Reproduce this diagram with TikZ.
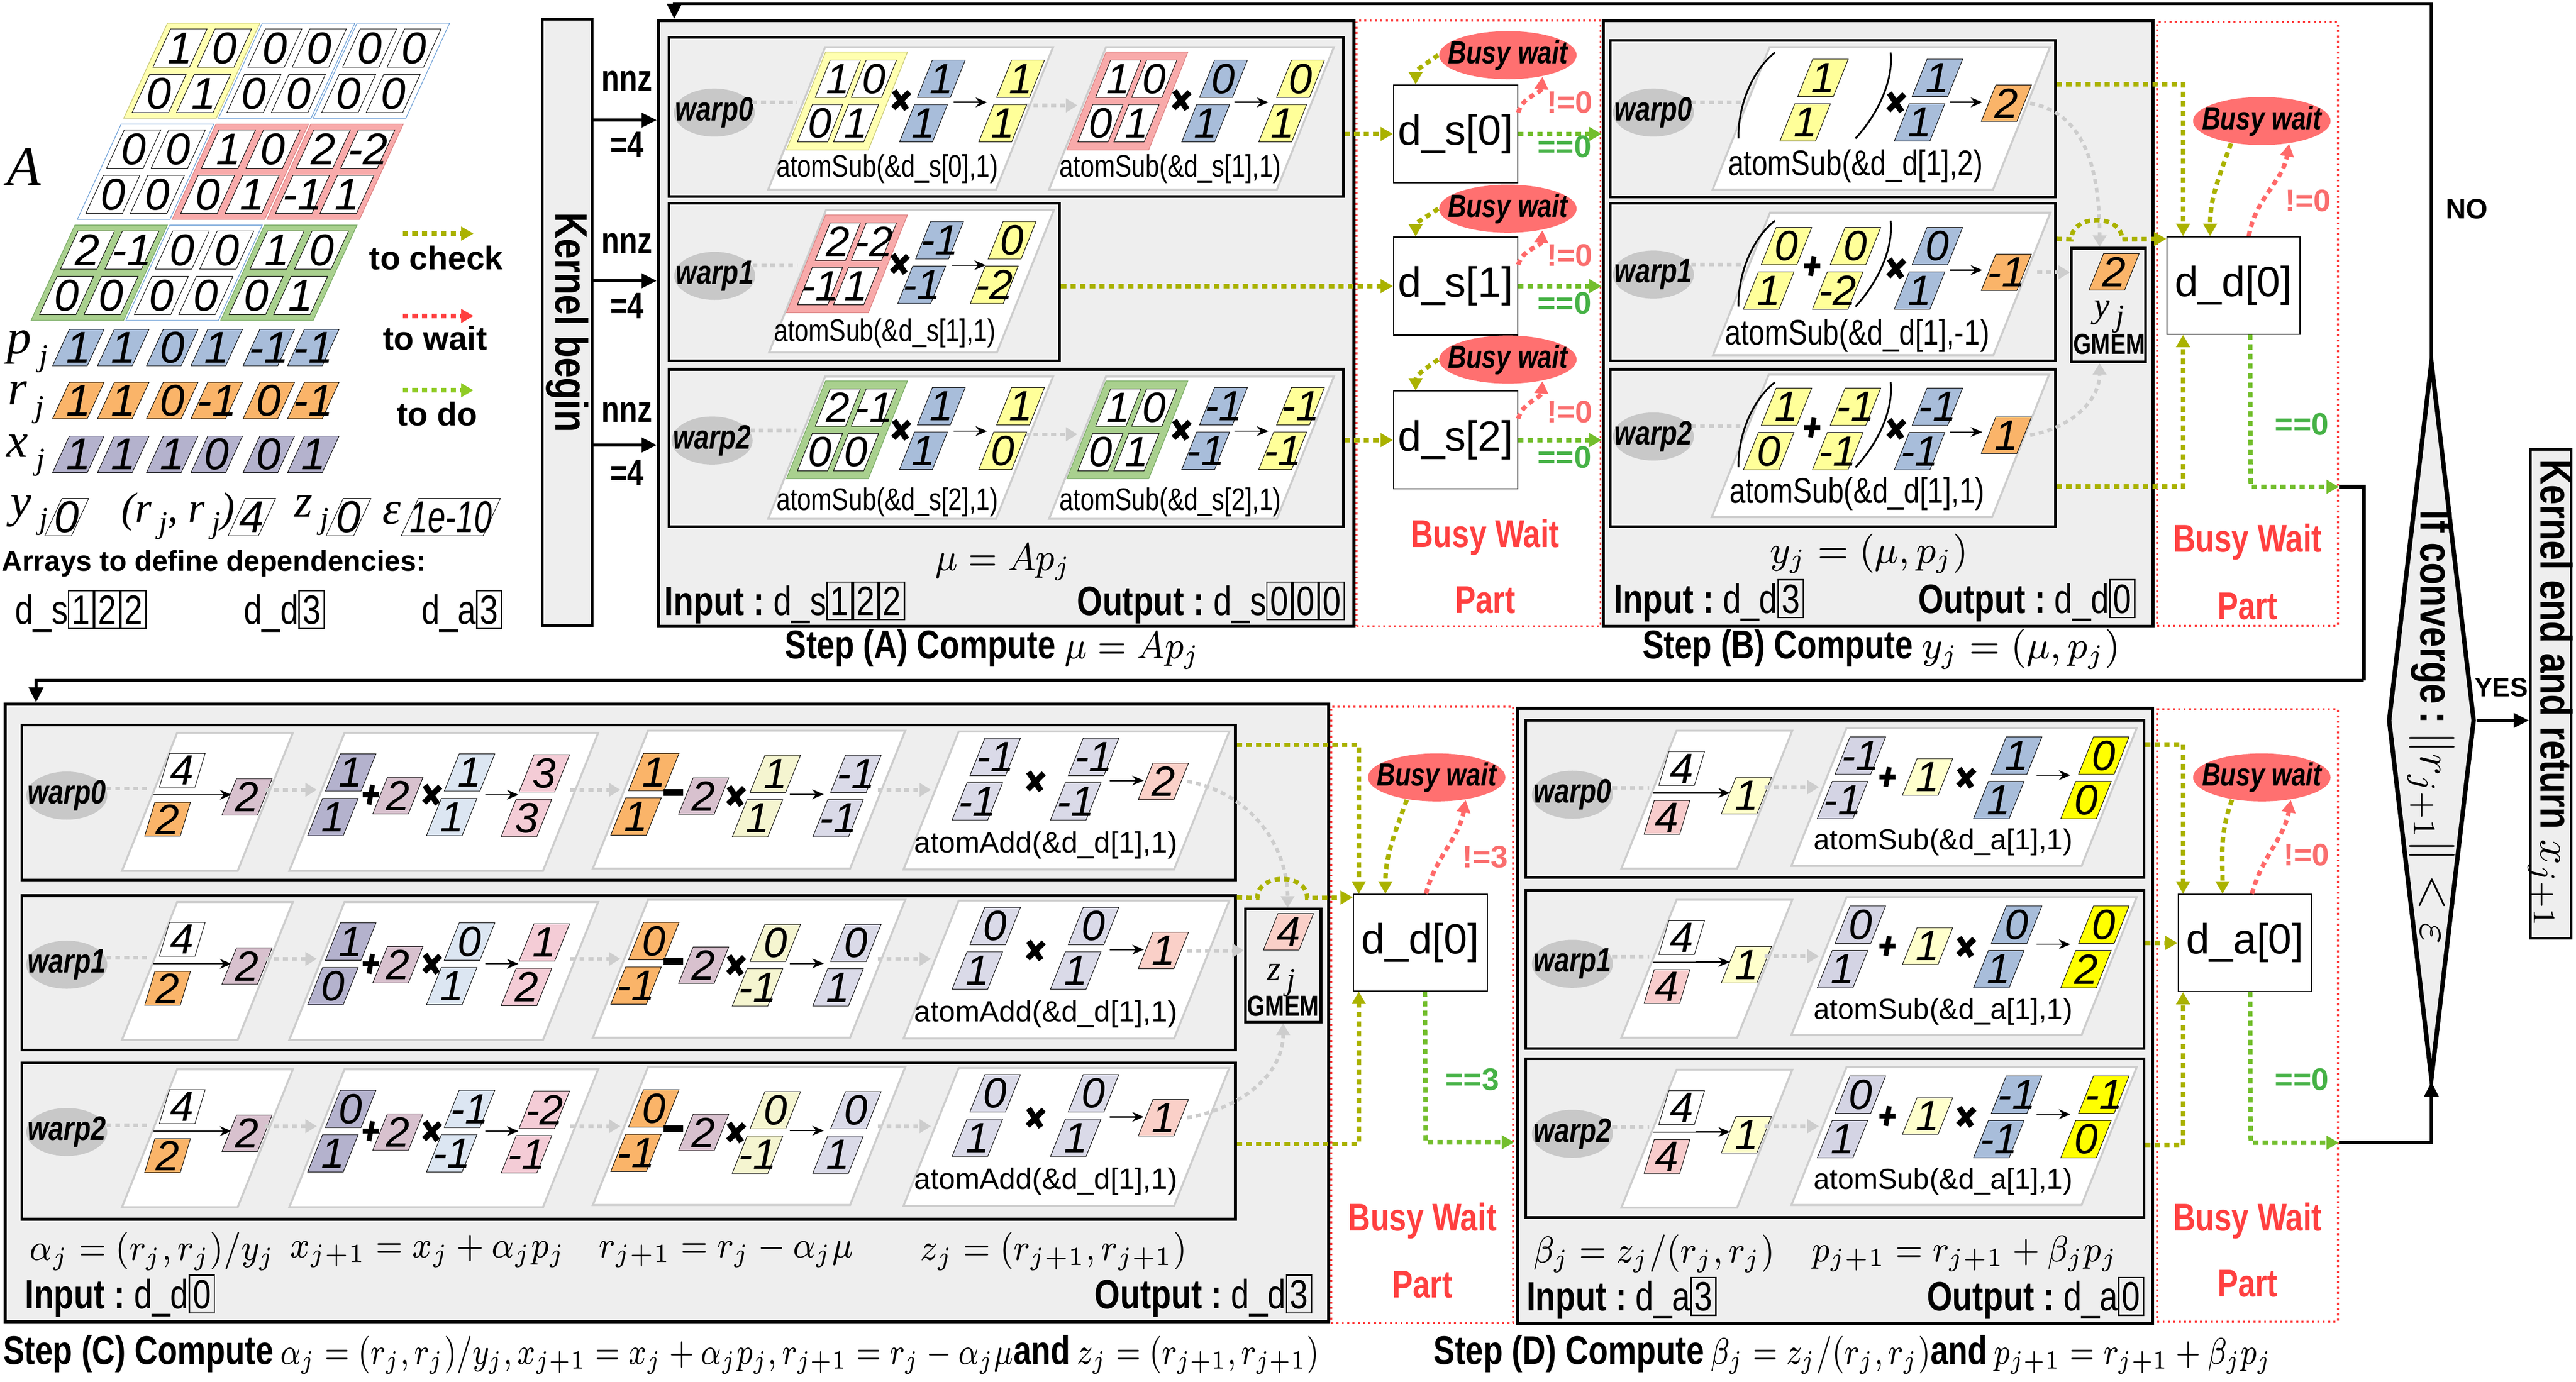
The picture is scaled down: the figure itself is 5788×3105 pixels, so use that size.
\documentclass[tikz,border=0pt]{standalone}
\usepackage{fix-cm}
\usepackage{graphicx}
\usepackage[no-math]{fontspec}
\setmainfont{Liberation Sans}
\newfontfamily\cf[FakeStretch=0.8]{Liberation Sans}
\newfontfamily\serf{Liberation Serif}
\usetikzlibrary{arrows.meta,shapes.geometric}
\newcounter{nn}
\newcommand\fsz[1]{\fontsize{#1}{#1}\selectfont}
\newcommand\mth[2][0.88]{\scalebox{#1}[1]{$#2$}}
\setlength\fboxsep{0.6pt}
\setlength\fboxrule{0.3pt}
\newcommand\bx[1]{\fbox{\rule[-0.03em]{0pt}{0.76em}#1}}
\newcommand\sbj{\,\raisebox{-0.55ex}{\fsz{7}j}}
\definecolor{bgc}{RGB}{238,238,238}
\definecolor{elc}{RGB}{200,200,200}
\definecolor{pnlc}{RGB}{205,205,205}
\definecolor{yelA}{RGB}{255,255,176}
\definecolor{yelB}{RGB}{200,200,120}
\definecolor{redA}{RGB}{248,170,170}
\definecolor{redB}{RGB}{220,130,130}
\definecolor{grnA}{RGB}{169,208,142}
\definecolor{grnB}{RGB}{120,170,100}
\definecolor{lblc}{RGB}{110,160,215}
\definecolor{bluC}{RGB}{168,189,218}
\definecolor{orgC}{RGB}{250,180,105}
\definecolor{purC}{RGB}{180,178,205}
\definecolor{yelV}{RGB}{255,255,153}
\definecolor{mauC}{RGB}{216,193,206}
\definecolor{lbluC}{RGB}{220,230,242}
\definecolor{pinkC}{RGB}{244,204,214}
\definecolor{lyelC}{RGB}{245,245,208}
\definecolor{lavC}{RGB}{218,218,232}
\definecolor{salC}{RGB}{250,208,200}
\definecolor{pnkD}{RGB}{248,204,204}
\definecolor{lyelD}{RGB}{255,255,204}
\definecolor{yelD}{RGB}{255,255,0}
\definecolor{lavD}{RGB}{212,212,228}
\definecolor{chk}{RGB}{170,178,0}
\definecolor{wtc}{RGB}{255,105,105}
\definecolor{doc}{RGB}{115,190,45}
\definecolor{eqg}{RGB}{70,178,70}
\definecolor{neq}{RGB}{250,110,110}
\definecolor{bwr}{RGB}{255,64,64}
\definecolor{elr}{RGB}{255,112,112}
\definecolor{gar}{RGB}{205,205,205}
\tikzset{
 cl/.style={draw=black,line width=0.12pt},
 num/.style={inner sep=0pt,font=\fsz{\myNf}\itshape},
 pnlst/.style={draw=pnlc,line width=0.45pt,fill=white},
 wbox/.style={draw=black,line width=0.6pt,fill=bgc,inner sep=0pt},
 obox/.style={draw=black,line width=0.7pt,fill=bgc,inner sep=0pt},
 bwbox/.style={draw=bwr,line width=0.45pt,dash pattern=on 0.45pt off 0.75pt,inner sep=0pt},
 wel/.style={ellipse,fill=elc,minimum width=18.2pt,minimum height=10.8pt,inner sep=0pt},
 welt/.style={inner sep=0pt,font=\cf\bfseries\itshape\fsz{7.6}},
 bel/.style={ellipse,fill=elr,minimum width=30.9pt,minimum height=10.8pt,inner sep=0pt},
 belt/.style={inner sep=0pt,font=\cf\bfseries\itshape\fsz{7.2}},
 dbox/.style={draw=black,line width=0.25pt,fill=white,inner sep=0pt,minimum width=29.9pt,minimum height=21.9pt,font=\fsz{9.5}},
 dl/.style={line width=1pt,dash pattern=on 1.2pt off 0.95pt},
 chka/.style={dl,draw=chk,-{Triangle[length=2.8pt,width=3pt]}},
 waita/.style={dl,draw=wtc,-{Triangle[length=2.8pt,width=3pt]}},
 doa/.style={dl,draw=doc,-{Triangle[length=2.8pt,width=3pt]}},
 gdot/.style={draw=gar,line width=0.8pt,dash pattern=on 1.1pt off 0.9pt},
 gda/.style={gdot,-{Triangle[length=2.6pt,width=3pt]}},
 blkl/.style={draw=black,line width=0.7pt},
 blka/.style={blkl,-{Triangle[length=3.4pt,width=3.2pt]}},
 lbl/.style={inner sep=0pt},
 neqt/.style={inner sep=0pt,font=\bfseries\fsz{7},text=neq},
 eqt/.style={inner sep=0pt,font=\bfseries\fsz{7},text=eqg},
 bwt/.style={inner sep=0pt,font=\cf\bfseries\fsz{8.7},text=bwr},
 iot/.style={inner sep=0pt,font=\cf\fsz{9.2}},
 capt/.style={inner sep=0pt,font=\cf\bfseries\fsz{9}},
 atA/.style={inner sep=0pt,font=\cf\fsz{7}},
 atB/.style={inner sep=0pt,font=\cf\fsz{8}},
 atC/.style={inner sep=0pt,font=\fsz{6.6}},
 legl/.style={inner sep=0pt,font=\serf\itshape\fsz{10.5}},
 frm/.style={inner sep=0pt,font=\fsz{8.2}},
}
\newcommand\blk[8]{%
 \begin{scope}[shift={(#1,#2)},xslant=\mySl]
  \draw[draw=#4,line width=0.15pt,fill=#3] (-\myBw,-\myBh) rectangle (\myBw,\myBh);
  \foreach \i/\j/\t in {-1/-1/#5,1/-1/#6,-1/1/#7,1/1/#8}{%
   \draw[cl,fill=white] (\i*\myCx-\myCw,\j*\myCy-\myCh) rectangle (\i*\myCx+\myCw,\j*\myCy+\myCh);
   \stepcounter{nn}%
   \node[num] (n\thenn) at (\i*\myCx,\j*\myCy) {\t};}
 \end{scope}}
\newcommand\gcell[6]{%
 \begin{scope}[shift={(#1,#2)},xslant=\mySl]
  \draw[cl,fill=#5] (-#3,-#4) rectangle (#3,#4);
  \stepcounter{nn}\node[num] (n\thenn) at (0,0) {#6};
 \end{scope}}
\newcommand\vtwo[5]{%
 \begin{scope}[shift={(#1,#2)},xslant=\mySl]
  \draw[cl,fill=#3] (-\myVw,-92) rectangle (\myVw,-8);
  \draw[cl,fill=#3] (-\myVw,8) rectangle (\myVw,92);
  \stepcounter{nn}\node[num] (n\thenn) at (0,-50) {#4};
  \stepcounter{nn}\node[num] (n\thenn) at (0,50) {#5};
 \end{scope}}
\newcommand\vone[5]{%
 \begin{scope}[shift={(#1,#2)},xslant=\mySl]
  \draw[cl,fill=#3] (-40,-41) rectangle (40,41);
 \end{scope}
 \node[num] (#5) at (#1,#2) {#4};}
\newcommand\frc[5]{%
 \begin{scope}[shift={(#1,#2)},xslant=0.3]
  \draw[cl,fill=white] (-40,-93) rectangle (40,-17);
  \draw[cl,fill=#3] (-40,17) rectangle (40,93);
  \stepcounter{nn}\node[num] (n\thenn) at (0,-55) {#4};
  \stepcounter{nn}\node[num] (n\thenn) at (0,55) {#5};
 \end{scope}
 \draw[line width=0.25pt] (#1-48,#2) -- (#1+48,#2);}
\newcommand\pnl[5]{%
 \begin{scope}[shift={(#1,#2)},xslant=0.4]
  \draw[pnlst] (-#3,-#4) rectangle (#3,#4);
 \end{scope}
 \coordinate (#5w) at (#1-#3,#2);
 \coordinate (#5e) at (#1+#3,#2);}
\newcommand\mulx[2]{\draw[line width=1.3pt] (#1-15,#2-21) -- (#1+13,#2+21) (#1+19,#2-18) -- (#1-17,#2+18);}
\newcommand\plusx[2]{\draw[line width=1.1pt] (#1+4,#2-22) -- (#1-4,#2+22) (#1-18,#2) -- (#1+18,#2);}
\newcommand\minx[2]{\draw[line width=1.5pt] (#1-22,#2) -- (#1+22,#2);}
\newcommand\rar[3]{\draw[line width=0.3pt,-{Stealth[length=2.6pt,width=2.2pt]}] (#1,#3) -- (#2,#3);}
\newcommand\wEl[4]{\node[wel] (#1) at (#2,#3) {}; \node[welt] (#1t) at (#1) {#4};}
\newcommand\bEl[3]{\node[bel] (#1) at (#2,#3) {}; \node[belt] (#1t) at (#1) {Busy wait};}
% ---- Step C row
\newcommand\rowCa[9]{%
 \wEl{eC#1}{150}{1788}{warp#1}
 \pnl{466}{1802}{130}{155}{pC#1a}
 \pnl{997}{1802}{285}{155}{pC#1b}
 \pnl{1683}{1797}{289}{155}{pC#1c}
 \pnl{2396}{1799}{304}{155}{pC#1d}
 \coordinate (rC#1) at (0,1775);
 \frc{393}{1786}{orgC}{4}{2}
 \rar{439}{520}{1786}
 \vone{555}{1791}{mauC}{2}{aC#1}
 \vtwo{768}{1786}{purC}{#2}{#3}
 \plusx{833}{1786}
 \vone{894}{1788}{mauC}{2}{bC#1}
 \mulx{970}{1786}
 \vtwo{1035}{1786}{lbluC}{#4}{#5}
 \rar{1090}{1165}{1786}
 \vtwo{1203}{1788}{pinkC}{#6}{#7}
 \vtwo{1449}{1785}{orgC}{#8}{#9}
 \minx{1513}{1781}
 \vone{1581}{1789}{mauC}{2}{cC#1}
 \mulx{1653}{1789}}
\newcommand\rowCb[6]{%
 \vtwo{1722}{1789}{lyelC}{#2}{#3}
 \rar{1774}{1851}{1785}
 \vtwo{1903}{1789}{lavC}{#4}{#5}
 \vtwo{2216}{1751}{lavC}{#4}{#5}
 \mulx{2326}{1756}
 \vtwo{2437}{1751}{lavC}{#4}{#5}
 \rar{2494}{2570}{1754}
 \vone{2614}{1756}{salC}{#6}{fC#1}
 \node[atC] (atC#1) at (2350,1899) {atomAdd(\&d\_d[1],1)};
 \draw[gdot] (eC#1.10) -- (eC#1.10 -| pC#1aw);
 \draw[gda] (pC#1ae |- rC#1) -- (pC#1bw |- rC#1);
 \draw[gda] (pC#1be |- rC#1) -- (pC#1cw |- rC#1);
 \draw[gda] (pC#1ce |- rC#1) -- (pC#1dw |- rC#1);}
% ---- Step D row
\newcommand\rowD[7]{%
 \wEl{eD#1}{3533}{1786}{warp#1}
 \pnl{3835}{1797}{130}{155}{pD#1a}
 \pnl{4413}{1791}{326}{155}{pD#1b}
 \coordinate (rD#1) at (0,1769);
 \frc{3762}{1782}{pnkD}{4}{4}
 \rar{3810}{3887}{1782}
 \vone{3924}{1788}{lyelD}{1}{aD#1}
 \vtwo{4160}{1748}{lavD}{#2}{#3}
 \plusx{4241}{1746}
 \vone{4331}{1746}{lyelD}{1}{bD#1}
 \mulx{4417}{1748}
 \vtwo{4511}{1748}{bluC}{#4}{#5}
 \rar{4576}{4652}{1742}
 \vtwo{4707}{1748}{yelD}{#6}{#7}
 \node[atC,font=\fsz{6.5}] (atD#1) at (4366,1893) {atomSub(\&d\_a[1],1)};
 \draw[gdot] (eD#1.10) -- (eD#1.10 -| pD#1aw);
 \draw[gda] (pD#1ae |- rD#1) -- (pD#1bw |- rD#1);}
\begin{document}
\begin{tikzpicture}[x=0.1pt,y=-0.1pt]
\useasboundingbox (0,0) rectangle (5788,3105);
\def\myNf{10}
% ================= Legend
\def\mySl{0.46}\def\myBw{104}\def\myBh{107}\def\myCx{50}\def\myCy{51}\def\myCw{41}\def\myCh{43}
\blk{431}{159}{yelA}{yelB}{1}{0}{0}{1}
\blk{644}{159}{white}{lblc}{0}{0}{0}{0}
\blk{857}{159}{white}{lblc}{0}{0}{0}{0}
\blk{327}{386}{white}{lblc}{0}{0}{0}{0}
\blk{540}{386}{redA}{redB}{1}{0}{0}{1}
\blk{753}{386}{redA}{redB}{2}{-2}{-1}{1}
\blk{223}{613}{grnA}{grnB}{2}{-1}{0}{0}
\blk{436}{613}{white}{lblc}{0}{0}{0}{0}
\blk{649}{613}{grnA}{grnB}{1}{0}{0}{1}
\foreach \x/\v in {176/1,277/1,387/0,487/1,604/-1,704/-1}{\gcell{\x}{781}{39}{41}{bluC}{\v}}
\foreach \x/\v in {176/1,277/1,387/0,487/-1,604/0,704/-1}{\gcell{\x}{900}{39}{41}{orgC}{\v}}
\foreach \x/\v in {176/1,277/1,387/1,487/0,604/0,704/1}{\gcell{\x}{1021}{39}{41}{purC}{\v}}
\node[legl,font=\serf\itshape\fsz{12.5}] (lA) at (54,375) {A};
\node[legl,font=\serf\itshape\fsz{11}] (lp) at (62,790) {p\sbj};
\node[legl,font=\serf\itshape\fsz{11}] (lr) at (58,905) {r\sbj};
\node[legl,font=\serf\itshape\fsz{11}] (lx) at (58,1024) {x\sbj};
\node[legl] (ly) at (66,1158) {y\sbj};
\gcell{150}{1162}{30}{42}{white}{0}
\node[legl,font=\serf\itshape\fsz{9.5}] (lrr) at (400,1160) {(r\sbj, r\sbj)};
\gcell{566}{1162}{34}{42}{white}{4}
\node[legl] (lz) at (700,1158) {z\sbj};
\gcell{783}{1162}{31}{42}{white}{0}
\node[legl] (le) at (880,1154) {ε};
\gcell{1013}{1162}{92}{42}{white}{\scalebox{0.72}[1]{1e-10}}
\coordinate (lc1) at (905,525); \coordinate (lc2) at (1064,525);
\coordinate (lw1) at (905,710); \coordinate (lw2) at (1064,710);
\coordinate (ld1) at (905,877); \coordinate (ld2) at (1064,877);
\draw[chka] (lc1) -- (lc2);
\draw[waita,draw=bwr] (lw1) -- (lw2);
\draw[doa,draw=doc!80!yellow] (ld1) -- (ld2);
\node[lbl,font=\bfseries\fsz{7.4}] (tchk) at (980,580) {to check};
\node[lbl,font=\bfseries\fsz{7.4}] (twt) at (978,760) {to wait};
\node[lbl,font=\bfseries\fsz{7.4}] (tdo) at (982,930) {to do};
\node[lbl,anchor=west,font=\bfseries\fsz{6.4}] (arr) at (2,1267) {Arrays to define dependencies:};
\node[iot,anchor=west] (lds) at (32,1373) {d\_s\bx{1}\bx{2}\bx{2}};
\node[iot,anchor=west] (ldd) at (546,1373) {d\_d\bx{3}};
\node[iot,anchor=west] (lda) at (945,1373) {d\_a\bx{3}};
% ================= frames
\node[obox,line width=0.6pt,minimum width=11.3pt,minimum height=136.3pt] (kb) at (1274.5,724.5) {};
\node[rotate=-90,inner sep=0pt,font=\cf\bfseries\fsz{10.2}] (kbt) at (kb.center) {Kernel begin};
\node[obox,minimum width=156.3pt,minimum height=136.2pt] (stA) at (2260.5,727) {};
\node[bwbox,minimum width=54.8pt,minimum height=136.2pt] (bpA) at (3322,727) {};
\node[obox,minimum width=123.6pt,minimum height=136.2pt] (stB) at (4220,727) {};
\node[bwbox,minimum width=40.6pt,minimum height=135.6pt] (bpB) at (5050,728) {};
\node[obox,minimum width=297.4pt,minimum height=138.8pt] (stC) at (1498,2276) {};
\node[bwbox,minimum width=40.9pt,minimum height=138.5pt] (bpC) at (3195.5,2280.5) {};
\node[obox,minimum width=142.6pt,minimum height=138.3pt] (stD) at (4123,2283.5) {};
\node[bwbox,minimum width=40.6pt,minimum height=137.6pt] (bpD) at (5050,2282) {};
\node[wbox,minimum width=151.5pt,minimum height=35.8pt] (wA0) at (2260.5,263) {};
\node[wbox,minimum width=87.8pt,minimum height=35.4pt] (wA1) at (1942,634) {};
\node[wbox,minimum width=151.5pt,minimum height=35.4pt] (wA2) at (2260.5,1007) {};
\node[wbox,minimum width=100pt,minimum height=35.2pt] (wB0) at (4118,267) {};
\node[wbox,minimum width=100pt,minimum height=35.4pt] (wB1) at (4118,634) {};
\node[wbox,minimum width=100pt,minimum height=35.4pt] (wB2) at (4118,1007) {};
\node[wbox,minimum width=272.7pt,minimum height=34.9pt] (wC0) at (1412.5,1803.5) {};
\node[wbox,minimum width=272.7pt,minimum height=34.7pt] (wC1) at (1412.5,2186.5) {};
\node[wbox,minimum width=272.7pt,minimum height=35.1pt] (wC2) at (1412.5,2564.5) {};
\node[wbox,minimum width=138.9pt,minimum height=35.3pt] (wD0) at (4122.5,1795.5) {};
\node[wbox,minimum width=138.9pt,minimum height=35.5pt] (wD1) at (4122.5,2178.5) {};
\node[wbox,minimum width=138.9pt,minimum height=35.7pt] (wD2) at (4122.5,2557.5) {};
% kernel begin arrows
\foreach \k/\y in {1/270,2/631,3/1000}{
 \coordinate (ka\k) at (0,\y);
 \draw[blka] (kb.east |- ka\k) -- (stA.west |- ka\k);}
\foreach \k/\y in {1/182,2/547,3/926}{\node[lbl,font=\cf\bfseries\fsz{8.3}] (nnz\k) at (1409,\y) {nnz};}
\foreach \k/\y in {1/325,2/687,3/1062}{\node[lbl,font=\cf\bfseries\fsz{8.3}] (eqf\k) at (1409,\y) {=4};}
% ================= Step A
\def\mySl{0.4}\def\myBw{92}\def\myBh{110}\def\myCx{40.5}\def\myCy{50}\def\myCw{34}\def\myCh{42}\def\myNf{9.5}\def\myVw{37}
\wEl{eA0}{1605}{253}{warp0}
\wEl{eA1}{1606}{620}{warp1}
\wEl{eA2}{1600}{990}{warp2}
\pnl{2046}{266}{256}{160}{pA00}
\pnl{2677}{266}{256}{160}{pA01}
\pnl{2048}{632}{256}{160}{pA10}
\pnl{2046}{1006}{256}{160}{pA20}
\pnl{2677}{1006}{256}{160}{pA21}
\coordinate (rA0) at (0,237); \coordinate (rA2) at (0,976);
\draw[gdot] (eA0.15) -- (eA0.15 -| pA00w);
\draw[gda] (pA00e |- rA0) -- (pA01w |- rA0);
\draw[gdot] (eA1.15) -- (eA1.15 -| pA10w);
\draw[gdot] (eA2.15) -- (eA2.15 -| pA20w);
\draw[gda] (pA20e |- rA2) -- (pA21w |- rA2);
% warp0
\blk{1903}{227}{yelA}{yelB}{1}{0}{0}{1}
\mulx{2024}{225}
\vtwo{2095}{227}{bluC}{1}{1}
\rar{2143}{2218}{230}
\vtwo{2273}{227}{yelV}{1}{1}
\node[atA] (atA00) at (1994,380) {atomSub(\&d\_s[0],1)};
\blk{2533}{227}{redA}{redB}{1}{0}{0}{1}
\mulx{2654}{225}
\vtwo{2729}{227}{bluC}{0}{1}
\rar{2773}{2850}{230}
\vtwo{2902}{227}{yelV}{0}{1}
\node[atA] (atA01) at (2630,380) {atomSub(\&d\_s[1],1)};
% warp1
\blk{1903}{593}{redA}{redB}{2}{-2}{-1}{1}
\mulx{2021}{593}
\vtwo{2091}{590}{bluC}{-1}{-1}
\rar{2139}{2215}{596}
\vtwo{2254}{590}{yelV}{0}{-2}
\node[atA] (atA10) at (1988,749) {atomSub(\&d\_s[1],1)};
% warp2
\blk{1903}{966}{grnA}{grnB}{2}{-1}{0}{0}
\mulx{2024}{966}
\vtwo{2095}{963}{bluC}{1}{1}
\rar{2143}{2218}{969}
\vtwo{2273}{963}{yelV}{1}{0}
\node[atA] (atA20) at (1994,1129) {atomSub(\&d\_s[2],1)};
\blk{2533}{966}{grnA}{grnB}{1}{0}{0}{1}
\mulx{2654}{966}
\vtwo{2729}{963}{bluC}{-1}{-1}
\rar{2773}{2850}{969}
\vtwo{2902}{963}{yelV}{-1}{-1}
\node[atA] (atA21) at (2630,1129) {atomSub(\&d\_s[2],1)};
\node[frm,font=\fsz{8.8}] (fA) at (2254,1263) {\mth[0.9]{\mu = Ap_j}};
\node[iot,anchor=west] (inA) at (1491,1354) {{\bfseries Input :}\ d\_s\bx{1}\bx{2}\bx{2}};
\node[iot,anchor=east] (outA) at (3024,1354) {{\bfseries Output :}\ d\_s\bx{0}\bx{0}\bx{0}};
\node[capt] (capA) at (2230,1459) {Step (A) Compute\ {\mdseries\fsz{8.8}\mth[0.9]{\mu = Ap_j}}};
% ---- busy A
\node[dbox,minimum width=27.9pt,minimum height=22pt] (dsA0) at (3270.5,301) {d\_s[0]};
\node[dbox,minimum width=27.9pt,minimum height=22pt] (dsA1) at (3270.5,643) {d\_s[1]};
\node[dbox,minimum width=27.9pt,minimum height=22pt] (dsA2) at (3270.5,989) {d\_s[2]};
\bEl{bwA0}{3388}{124}
\bEl{bwA1}{3388}{469}
\bEl{bwA2}{3388}{808}
\foreach \k in {0,1,2}{
 \draw[chka] (wA\k.east |- dsA\k.west) -- (dsA\k.west);
 \draw[doa] (dsA\k.east) -- (dsA\k.east -| stB.west);
 \draw[chka] (bwA\k.west) to[out=215,in=90] ([xshift=5.1pt]dsA\k.north west);
 \draw[waita] ([yshift=4.8pt]dsA\k.east) to[out=75,in=-95] (bwA\k.-32);}
\foreach \k/\y in {0/230,1/574,2/926}{\node[neqt] (neA\k) at (3527,\y) {!=0};}
\foreach \k/\y in {0/330,1/681,2/1027}{\node[eqt] (eqA\k) at (3515,\y) {==0};}
\node[bwt] (bwtA) at (3337,1207) {Busy Wait};
\node[bwt] (ptA) at (3337,1349) {Part};
% ================= Step B
\def\myVw{40}
\wEl{eB0}{3715}{253}{warp0}
\wEl{eB1}{3715}{617}{warp1}
\wEl{eB2}{3715}{981}{warp2}
\pnl{4227}{266}{315}{160}{pB0}
\pnl{4228}{638}{315}{160}{pB1}
\pnl{4225}{1002}{315}{160}{pB2}
\draw[gdot] (eB0.15) -- (eB0.15 -| pB0w);
\draw[gdot] (eB1.15) -- (eB1.15 -| pB1w);
\draw[gdot] (eB2.15) -- (eB2.15 -| pB2w);
\draw[line width=0.4pt] (3988,118) .. controls (3935,160) and (3905,240) .. (3906,311);
\draw[line width=0.4pt] (4248,118) .. controls (4255,185) and (4215,262) .. (4169,311);
\vtwo{4076}{225}{yelV}{1}{1}
\mulx{4260}{230}
\vtwo{4333}{225}{bluC}{1}{1}
\rar{4381}{4454}{230}
\vone{4508}{232}{orgC}{2}{rB0}
\node[atB] (atB0) at (4169,373) {atomSub(\&d\_d[1],2)};
\draw[line width=0.4pt] (3988,496) .. controls (3935,538) and (3905,618) .. (3906,689);
\draw[line width=0.4pt] (4248,496) .. controls (4255,563) and (4215,640) .. (4169,689);
\vtwo{3994}{603}{yelV}{0}{1}
\plusx{4072}{598}
\vtwo{4149}{603}{yelV}{0}{-2}
\mulx{4260}{603}
\vtwo{4333}{603}{bluC}{0}{1}
\rar{4381}{4454}{607}
\vone{4508}{612}{orgC}{-1}{rB1}
\node[atB] (atB1) at (4173,754) {atomSub(\&d\_d[1],-1)};
\draw[line width=0.4pt] (3988,859) .. controls (3935,901) and (3905,980) .. (3906,1050);
\draw[line width=0.4pt] (4248,859) .. controls (4255,926) and (4215,1002) .. (4169,1050);
\vtwo{3994}{964}{yelV}{1}{0}
\plusx{4072}{961}
\vtwo{4149}{964}{yelV}{-1}{-1}
\mulx{4260}{964}
\vtwo{4333}{964}{bluC}{-1}{-1}
\rar{4381}{4454}{971}
\vone{4508}{978}{orgC}{1}{rB2}
\node[atB] (atB2) at (4173,1110) {atomSub(\&d\_d[1],1)};
\node[obox,line width=0.6pt,minimum width=16.7pt,minimum height=25.5pt] (gmB) at (4737.5,685.5) {};
\vone{4750}{611}{orgC}{2}{gB}
\node[lbl,font=\serf\itshape\fsz{8}] (gyB) at (4739,712) {y\sbj};
\node[lbl,font=\cf\bfseries\fsz{6.5}] (gtB) at (4739,773) {GMEM};
\coordinate (rB0x) at ([xshift=2.5pt]rB0.east);
\coordinate (rB1x) at ([xshift=2.5pt]rB1.east);
\coordinate (rB2x) at ([xshift=2.5pt]rB2.east);
\draw[gda] (rB0x) to[out=-10,in=90] ([xshift=-2pt]gmB.north);
\draw[gda] (rB1x) -- (rB1x -| gmB.west);
\draw[gda] (rB2x) to[out=10,in=-90] ([xshift=-2pt]gmB.south);
\node[frm,font=\fsz{8.8}] (fB) at (4200,1244) {\mth[0.95]{y_j = (\mu,p_j)}};
\node[iot,anchor=west] (inB) at (3624,1349) {{\bfseries Input :}\ d\_d\bx{3}};
\node[iot,anchor=east] (outB) at (4800,1349) {{\bfseries Output :}\ d\_d\bx{0}};
\node[capt] (capB) at (4227,1459) {Step (B) Compute\ {\mdseries\fsz{8.8}\mth[0.95]{y_j = (\mu,p_j)}}};
% ---- busy B
\node[dbox] (ddB) at (5018.5,641.5) {d\_d[0]};
\bEl{bwB}{5082}{272}
\coordinate (kB0) at (4905,189);
\coordinate (kB2) at (4905,1093);
\coordinate (ddBw) at ([yshift=-0.6pt]ddB.north west);
\coordinate (hB1) at (4654,538);
\coordinate (hB2) at (4768,538);
\draw[chka] (wB0.east |- kB0) -- (kB0) -- (kB0 |- ddB.north);
\draw[chka] (wB2.east |- kB2) -- (kB2) -- (kB2 |- ddB.south);
\draw[chka] (wB1.east |- ddBw) -- (hB1) to[out=90,in=90,looseness=1.3] (hB2) -- (ddBw);
\draw[chka] (bwB.216) to[out=250,in=90] ([xshift=9.8pt]ddB.north west);
\draw[waita] ([xshift=18.5pt]ddB.north west) to[out=80,in=-100] (bwB.-40);
\coordinate (kBG) at (5057,1094);
\draw[doa] ([xshift=18.8pt]ddB.south west) -- (kBG) -- (kBG -| bpB.east);
\node[neqt] (neB) at (5186,451) {!=0};
\node[eqt] (eqB) at (5172,953) {==0};
\node[bwt] (bwtB) at (5050,1218) {Busy Wait};
\node[bwt] (ptB) at (5050,1362) {Part};
% ================= Step C
\begin{scope}\rowCa{0}{1}{1}{1}{1}{3}{3}{1}{1}\rowCb{0}{1}{1}{-1}{-1}{2}\end{scope}
\begin{scope}[shift={(0,380)}]\rowCa{1}{1}{0}{0}{1}{1}{2}{0}{-1}\rowCb{1}{0}{-1}{0}{1}{1}\end{scope}
\begin{scope}[shift={(0,756)}]\rowCa{2}{0}{1}{-1}{-1}{-2}{-1}{0}{-1}\rowCb{2}{0}{-1}{0}{1}{1}\end{scope}
\node[obox,line width=0.6pt,minimum width=17pt,minimum height=25.4pt] (gmC) at (2883,2170) {};
\vone{2895}{2094}{salC}{4}{gC}
\node[lbl,font=\serf\itshape\fsz{8}] (gzC) at (2879,2203) {z\sbj};
\node[lbl,font=\cf\bfseries\fsz{6.5}] (gtC) at (2883,2261) {GMEM};
\coordinate (fC0x) at ([xshift=2.5pt]fC0.east);
\coordinate (fC1x) at ([xshift=2.5pt]fC1.east);
\coordinate (fC2x) at ([xshift=2.5pt]fC2.east);
\draw[gda] (fC0x) to[out=-10,in=90] ([xshift=1pt]gmC.north);
\draw[gda] (fC1x) -- (fC1x -| gmC.west);
\draw[gda] (fC2x) to[out=10,in=-90] (gmC.south);
\node[frm,anchor=west,font=\fsz{8.4}] (frmC1) at (65,2812) {\mth{\alpha_j = (r_j,r_j)/y_j}};
\node[frm,anchor=west,font=\fsz{8.4}] (frmC2) at (650,2812) {\mth{x_{j+1} = x_j + \alpha_j p_j}};
\node[frm,anchor=west,font=\fsz{8.4}] (frmC3) at (1344,2812) {\mth{r_{j+1} = r_j - \alpha_j \mu}};
\node[frm,anchor=west,font=\fsz{8.4}] (frmC4) at (2066,2812) {\mth{z_j = (r_{j+1},r_{j+1})}};
\node[iot,anchor=west] (inC) at (54,2912) {{\bfseries Input :}\ d\_d\bx{0}};
\node[iot,anchor=east] (outC) at (2950,2912) {{\bfseries Output :}\ d\_d\bx{3}};
\node[capt,anchor=west] (capC) at (5,3044) {Step (C) Compute\,{\mdseries\fsz{8.4}\mth[0.8]{\alpha_j=(r_j,r_j)/y_j, x_{j+1}=x_j+\alpha_jp_j, r_{j+1}=r_j-\alpha_j\mu}}and\,{\mdseries\fsz{8.4}\mth[0.8]{z_j=(r_{j+1},r_{j+1})}}};
% ---- busy C
\node[dbox,minimum width=30.1pt,minimum height=21.7pt] (ddC) at (3191.5,2118.5) {d\_d[0]};
\bEl{bwC}{3228}{1747}
\coordinate (kC0) at (3053,1674);
\coordinate (kC2) at (3053,2571);
\coordinate (ddCw) at ([yshift=-0.8pt]ddC.north west);
\coordinate (hC1) at (2825,2018);
\coordinate (hC2) at (2937,2018);
\draw[chka] (wC0.east |- kC0) -- (kC0) -- (kC0 |- ddC.north);
\draw[chka] (wC2.east |- kC2) -- (kC2) -- (kC2 |- ddC.south);
\draw[chka] (wC1.east |- ddCw) -- (hC1) to[out=90,in=90,looseness=1.3] (hC2) -- (ddCw);
\draw[chka] (bwC.217) to[out=250,in=90] ([xshift=7.3pt]ddC.north west);
\draw[waita] ([xshift=16.4pt]ddC.north west) to[out=75,in=-100] (bwC.-38);
\coordinate (kCG) at (3203,2567);
\draw[doa] ([xshift=16.2pt]ddC.south west) -- (kCG) -- (kCG -| bpC.east);
\node[neqt] (neC) at (3337,1926) {!=3};
\node[eqt] (eqC) at (3308,2426) {==3};
\node[bwt] (bwtC) at (3196,2744) {Busy Wait};
\node[bwt] (ptC) at (3196,2887) {Part};
% ================= Step D
\begin{scope}\rowD{0}{-1}{-1}{1}{1}{0}{0}\end{scope}
\begin{scope}[shift={(0,380)}]\rowD{1}{0}{1}{0}{1}{0}{2}\end{scope}
\begin{scope}[shift={(0,762)}]\rowD{2}{0}{1}{-1}{-1}{-1}{0}\end{scope}
\node[frm,anchor=west,font=\fsz{8.4}] (frmD1) at (3443,2817) {\mth{\beta_j = z_j/(r_j,r_j)}};
\node[frm,anchor=west,font=\fsz{8.4}] (frmD2) at (4070,2817) {\mth{p_{j+1} = r_{j+1} + \beta_j p_j}};
\node[iot,anchor=west] (inD) at (3428,2917) {{\bfseries Input :}\ d\_a\bx{3}};
\node[iot,anchor=east] (outD) at (4820,2917) {{\bfseries Output :}\ d\_a\bx{0}};
\node[capt,anchor=west] (capD) at (3219,3044) {Step (D) Compute\,{\mdseries\fsz{8.4}\mth[0.8]{\beta_j=z_j/(r_j,r_j)}}and\,{\mdseries\fsz{8.4}\mth[0.8]{p_{j+1}=r_{j+1}+\beta_jp_j}}};
% ---- busy D
\node[dbox,minimum width=30pt,minimum height=21.8pt] (daD) at (5044,2119) {d\_a[0]};
\bEl{bwD}{5082}{1747}
\coordinate (kD0) at (4905,1673);
\coordinate (kD2) at (4905,2574);
\draw[chka] (wD0.east |- kD0) -- (kD0) -- (kD0 |- daD.north);
\draw[chka] (wD2.east |- kD2) -- (kD2) -- (kD2 |- daD.south);
\draw[chka] (wD1.east |- daD.west) -- (daD.west);
\draw[chka] (bwD.217) to[out=250,in=90] ([xshift=10.1pt]daD.north west);
\draw[waita] ([xshift=16.7pt]daD.north west) to[out=75,in=-100] (bwD.-38);
\coordinate (kDG) at (5057,2568);
\draw[doa] ([xshift=16.3pt]daD.south west) -- (kDG) -- (kDG -| bpD.east);
\node[neqt] (neD) at (5182,1921) {!=0};
\node[eqt] (eqD) at (5172,2426) {==0};
\node[bwt] (bwtD) at (5050,2743) {Busy Wait};
\node[bwt] (ptD) at (5050,2885) {Part};
% ================= convergence
\node[diamond,draw=black,line width=1pt,fill=bgc,minimum width=19.4pt,minimum height=161.4pt,inner sep=0pt] (dm) at (5463,1619) {};
\node[rotate=-90,inner sep=0pt,font=\cf\bfseries\fsz{10.2}] (dmt) at (5463,1634) {If converge\,:\,$\|r_{j+1}\|<\varepsilon$};
\node[obox,line width=0.6pt,minimum width=9.2pt,minimum height=109.9pt] (ke) at (5731,1559.5) {};
\node[rotate=-90,inner sep=0pt,font=\cf\bfseries\fsz{10}] (ket) at (ke.center) {Kernel end and return $x_{j+1}$};
\coordinate (tL) at (1515,8);
\draw[blka] (dm.north) -- (dm.north |- tL) -- (tL) -- (tL |- stA.north);
\node[lbl,font=\bfseries\fsz{6.3}] (nolab) at (5543,470) {NO};
\draw[blka] (dm.east) -- (dm.east -| ke.west);
\node[lbl,font=\bfseries\fsz{6}] (yeslab) at (5620,1545) {YES};
\draw[blka] (kDG -| bpD.east) -- (kDG -| dm.south) -- (dm.south);
\coordinate (jB1) at (5311,1094);
\coordinate (jC) at (81,1529);
\draw[blkl,line width=0.9pt] (kBG -| bpB.east) -- (jB1) -- (jB1 |- jC);
\draw[blka] (jB1 |- jC) -- (jC) -- (jC |- stC.north);
\end{tikzpicture}
\end{document}
